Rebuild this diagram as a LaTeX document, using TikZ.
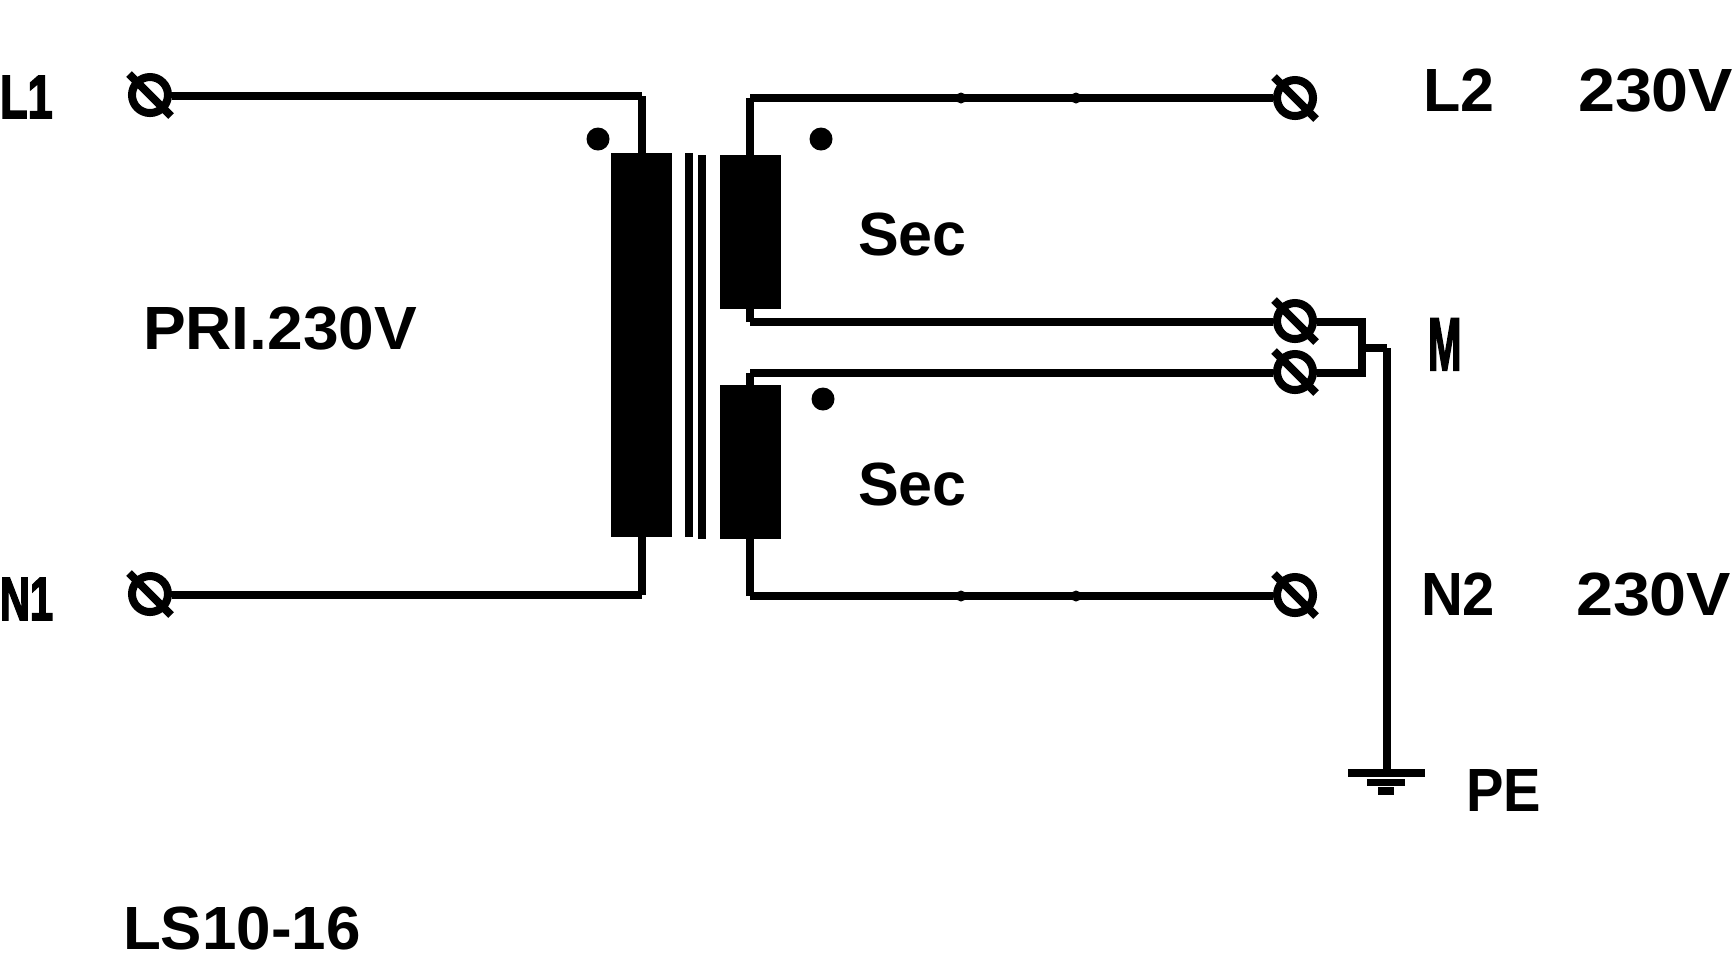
\documentclass[tikz,border=0pt]{standalone}
\usepackage{fontspec}
\setmainfont{Liberation Sans}
\newfontfamily\heavyfont[FakeBold=3]{Liberation Sans Bold}
\usepackage{tikz}
\usetikzlibrary{calc}
\tikzset{wire/.style={draw=black, line width=.8mm},
  terminal/.style={shape=circle, draw=black, line width=.8mm, fill=none,
    inner sep=0, minimum size=.36cm},
  slash/.style={draw=black, line width=.8mm},
  block/.style={shape=rectangle, fill=black, inner sep=0, outer sep=0},
  coil/.style={block, minimum width=.61cm, minimum height=1.54cm},
  core/.style={block, minimum width=.08cm, minimum height=3.84cm},
  dot/.style={shape=circle, fill=black, inner sep=0, minimum size=.23cm},
  bump/.style={shape=circle, fill=black, inner sep=0, minimum size=.11cm},
  lbl/.style={inner sep=0, outer sep=0, anchor=base west, text=black, transform shape,
    font=\fontsize{17.35pt}{20pt}\selectfont\bfseries},
  lblheavy/.style={lbl, font=\fontsize{17.35pt}{20pt}\heavyfont}}

\begin{document}
\begin{tikzpicture}[x=.01cm, y=-.01cm]
      \useasboundingbox (0,0) rectangle (1734,953);
      \node[terminal] (tL1) at (150,95) {};
      \node[terminal] (tN1) at (150,594) {};
      \node[terminal] (tL2) at (1295,98) {};
      \node[terminal] (tM1) at (1295,321) {};
      \node[terminal] (tM2) at (1295,372) {};
      \node[terminal] (tN2) at (1295,595) {};
      \foreach \t in {tL1, tN1, tL2, tM1, tM2, tN2}
        \draw[slash] ([shift={(-21,-21)}]\t.center) -- ([shift={(21,21)}]\t.center);

      \node[core, minimum width=.61cm] (pri) at (641.5,345) {};
      \node[core] (coreA) at (689,345) {};
      \node[core] (coreB) at (702,347) {};
      \node[coil] (secA) at (750.5,232) {};
      \node[coil] (secB) at (750.5,462) {};

      \node[dot] (dotP) at (598,139) {};
      \node[dot] (dotA) at (821,139) {};
      \node[dot] (dotB) at (823,399) {};

      \coordinate (cL1) at (642,96);
      \coordinate (cN1) at (642,595);
      \coordinate (cL2) at (750,98);
      \coordinate (cM1) at (750,322);
      \coordinate (cM2) at (750,373);
      \coordinate (cN2) at (750,596);
      \draw[wire] (tL1.east |- cL1) -- (cL1);
      \draw[wire] (cL1) -- (cL1 |- pri.north);
      \draw[wire] (tN1.east |- cN1) -- (cN1);
      \draw[wire] (cN1) -- (cN1 |- pri.south);
      \draw[wire] (cL2) -- (tL2.west |- cL2);
      \draw[wire] (cL2) -- (cL2 |- secA.north);
      \draw[wire] (cM1) -- (tM1.west |- cM1);
      \draw[wire] (cM1) -- (cM1 |- secA.south);
      \draw[wire] (cM2) -- (tM2.west |- cM2);
      \draw[wire] (cM2) -- (cM2 |- secB.north);
      \draw[wire] (cN2) -- (tN2.west |- cN2);
      \draw[wire] (cN2) -- (cN2 |- secB.south);

      \node[bump] (bA) at (961,98) {};
      \node[bump] (bB) at (1076,98) {};
      \node[bump] (bC) at (961,596) {};
      \node[bump] (bD) at (1076,596) {};

      \coordinate (cTieA) at (1362,322);
      \coordinate (cTieB) at (1362,373);
      \coordinate (cTieM) at (1362,348);
      \coordinate (cPE) at (1387,348);
      \draw[wire] (tM1.east |- cTieA) -- (cTieA) -- (cTieB) -- (tM2.east |- cTieB);
      \draw[wire] (cTieM) -- (cPE);
      \node[block, minimum width=.77cm, minimum height=.08cm] (gndA) at (1386.5,773) {};
      \node[block, minimum width=.38cm, minimum height=.075cm] (gndB) at (1386,782.5) {};
      \node[block, minimum width=.16cm, minimum height=.08cm] (gndC) at (1386,791) {};
      \draw[wire] (cPE) -- (cPE |- gndA.north);

      \node[lblheavy, xscale=.74] (lL1) at (0,118) {L1};
      \node[lblheavy, xscale=.68] (lN1) at (0,620) {N1};
      \node[lbl, xscale=1.05] (lPri) at (143,349) {PRI.230V};
      \node[lbl] (lSecA) at (858,255) {Sec};
      \node[lbl] (lSecB) at (858,505) {Sec};
      \node[lbl] (lL2) at (1423,111) {L2};
      \node[lbl, xscale=1.09] (lVA) at (1578,111) {230V};
      \node[lblheavy, xscale=.66, yscale=1.22] (lM) at (1428,370) {M};
      \node[lbl, xscale=.95] (lN2) at (1421,615) {N2};
      \node[lbl, xscale=1.09] (lVB) at (1576,615) {230V};
      \node[lbl, xscale=.92] (lPE) at (1466,811) {PE};
      \node[lbl, xscale=1.015] (lType) at (123,949) {LS10-16};
    \end{tikzpicture}
\end{document}
